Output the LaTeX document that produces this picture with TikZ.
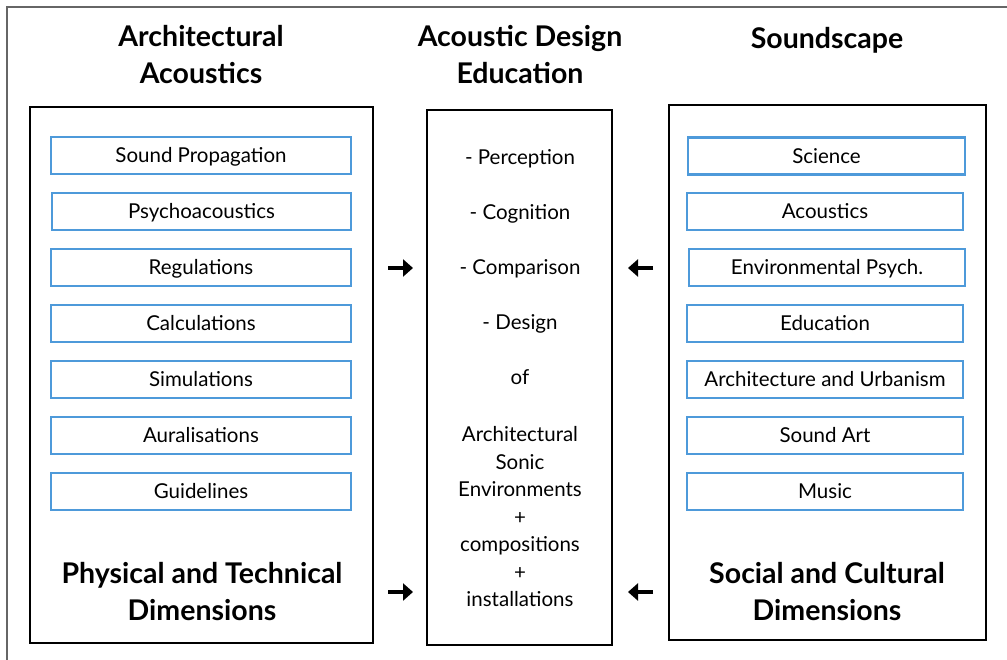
\documentclass[tikz,border=0pt]{standalone}
\usepackage{fontspec}
\setmainfont{Lato}
\usetikzlibrary{arrows.meta}
\definecolor{itemblue}{RGB}{78,154,218}
\tikzset{
  bigbox/.style={draw=black, line width=2pt, minimum width=#1, inner sep=0pt},
  itembox/.style={draw=itemblue, line width=2.2pt, minimum height=37pt, inner sep=0pt, text height=14.7pt, text depth=0pt, font=\fontsize{20.5}{22}\selectfont},
  heading/.style={align=center, font=\fontsize{28.5}{37}\selectfont\bfseries},
  midtext/.style={text height=14.7pt, text depth=0pt, font=\fontsize{20.5}{22}\selectfont},
  flow/.style={line width=4pt, -{Triangle[length=10pt,width=17pt]}}
}
\begin{document}
\begin{tikzpicture}[x=1pt,y=-1pt]
\useasboundingbox (0,0) rectangle (1007,660);
\draw[gray!80!black, line width=1.5pt] (7,700) -- (7,7) -- (1050,7);
% headings
\node[heading] (aa) at (201,55) {Architectural\\Acoustics};
\node[heading] (ade) at (520,55) {Acoustic Design\\Education};
\node[heading] (sc) at (827,40) {Soundscape};
% frames
\node[bigbox=343pt, minimum height=536pt] (left) at (201.5,375) {};
\node[bigbox=185pt, minimum height=535pt] (mid) at (519.5,377.5) {};
\node[bigbox=317pt, minimum height=535pt] (right) at (827.5,372.5) {};
% left column
\node[itembox, minimum width=300pt] (lp) at (201,155.5) {Sound Propagation};
\node[itembox, minimum width=299pt] (ls) at (201.5,211.5) {Psychoacoustics};
\node[itembox, minimum width=300pt] (lr) at (201,267.5) {Regulations};
\node[itembox, minimum width=300pt] (lc) at (201,323.5) {Calculations};
\node[itembox, minimum width=300pt] (lsim) at (201,379.5) {Simulations};
\node[itembox, minimum width=300pt] (la) at (201,435.5) {Auralisations};
\node[itembox, minimum width=300pt] (lg) at (201,491.5) {Guidelines};
% right column
\node[itembox, minimum width=277pt] (rs) at (826.5,156) {Science};
\node[itembox, minimum width=276pt] (ra) at (825,211.5) {Acoustics};
\node[itembox, minimum width=276pt] (rp) at (827,267.5) {Environmental Psych.};
\node[itembox, minimum width=276pt] (re) at (825,323.5) {Education};
\node[itembox, minimum width=276pt] (rar) at (825,379.5) {Architecture and Urbanism};
\node[itembox, minimum width=276pt] (rsa) at (825,435.5) {Sound Art};
\node[itembox, minimum width=276pt] (rm) at (825,491.5) {Music};
% middle column
\node[midtext] (m1) at (520,157) {- Perception};
\node[midtext] (m2) at (520,212) {- Cognition};
\node[midtext] (m3) at (520,267) {- Comparison};
\node[midtext] (m4) at (520,322) {- Design};
\node[midtext] (m5) at (520,377) {of};
\node[align=center, font=\fontsize{20.5}{27.5}\selectfont] (m6) at (520,517) {Architectural\\Sonic\\Environments\\+\\compositions\\+\\installations};
% bottom headings
\node[heading] (ptd) at (202,592) {Physical and Technical\\Dimensions};
\node[heading] (scd) at (827,592) {Social and Cultural\\Dimensions};
% arrows
\coordinate (a1) at (388,268);
\coordinate (a2) at (413,268);
\coordinate (a3) at (388,592);
\coordinate (a4) at (413,592);
\coordinate (b1) at (653,268);
\coordinate (b2) at (628,268);
\coordinate (b3) at (653,592);
\coordinate (b4) at (628,592);
\draw[flow] (a1) -- (a2);
\draw[flow] (a3) -- (a4);
\draw[flow] (b1) -- (b2);
\draw[flow] (b3) -- (b4);
\end{tikzpicture}
\end{document}
